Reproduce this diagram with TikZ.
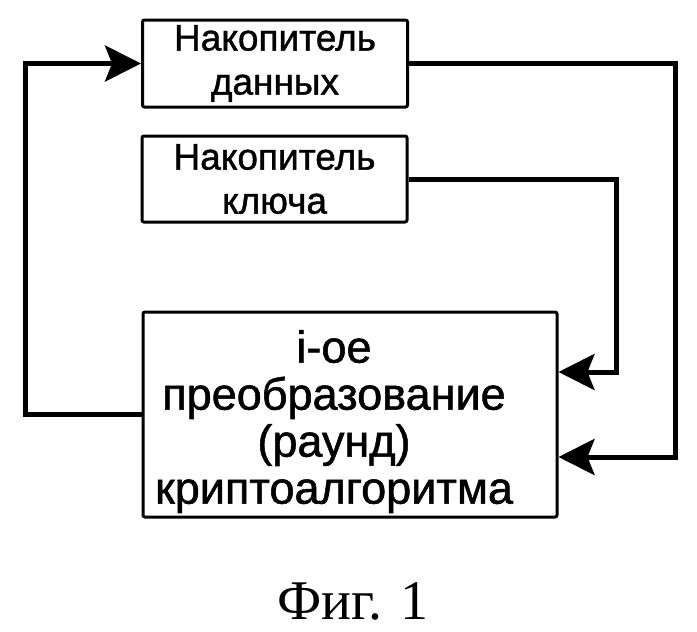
\documentclass[tikz,border=0pt]{standalone}
\usepackage{fontspec}
\newfontfamily\boxfont[FakeBold=1.2]{Liberation Sans}
\newfontfamily\capfont{Liberation Serif}
\usetikzlibrary{arrows.meta}
\begin{document}
\begin{tikzpicture}[x=1pt,y=-1pt,>={Stealth[length=36pt,width=36pt,inset=7pt]},
	store/.style={draw,line width=3pt,rounded corners=2pt,align=center,minimum width=265pt,font=\boxfont\fontsize{37}{44}\selectfont},
	conn/.style={line width=5pt}]
	\useasboundingbox (0,0) rectangle (697,632);
	% stores
	\node[store,minimum height=87pt] (data) at (275,63.5) {Накопитель\\данных};
	\node[store,minimum height=86pt] (key) at (274.5,179) {Накопитель\\ключа};
	% round
	\node[store,minimum width=414pt,minimum height=205pt] (round) at (350,414.5) {};
	\node[align=center,font=\boxfont\fontsize{45}{47}\selectfont] (roundtext) at ([xshift=-16pt,yshift=-7pt]round.center) {i-ое\\преобразование\\(раунд)\\криптоалгоритма};
	% loops
	\coordinate (lx) at (25,240);
	\coordinate (kx) at (616,280);
	\coordinate (dx) at (675,280);
	\draw[conn,->] (round.west) -| (lx) |- (data.west);
	\draw[conn,->] (key.east) -| (kx) |- ([yshift=42.5pt]round.east);
	\draw[conn,->] (data.east) -| (dx) |- ([yshift=-42.5pt]round.east);
	\node[font=\capfont\fontsize{56}{60}\selectfont] (fig) at (353,601) {Фиг. 1};
\end{tikzpicture}
\end{document}
